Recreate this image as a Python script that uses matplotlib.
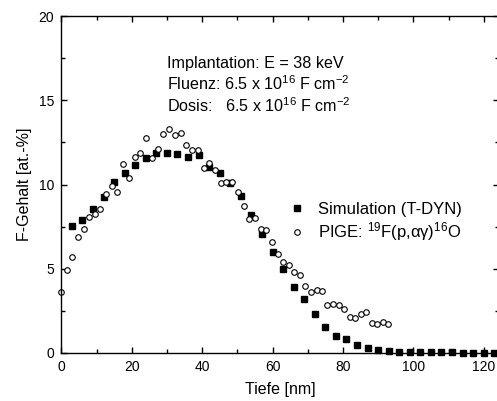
import numpy as np
import matplotlib
matplotlib.use("Agg")
import matplotlib.pyplot as plt
from matplotlib.ticker import MultipleLocator

plt.rcParams['font.family'] = ['Liberation Sans', 'DejaVu Sans']
plt.rcParams['mathtext.fontset'] = 'custom'
plt.rcParams['mathtext.rm'] = 'Liberation Sans'
plt.rcParams['mathtext.it'] = 'Liberation Sans:italic'

# Simulation (T-DYN), Tiefe in nm, F-Gehalt in at.-%
sim_x = [3, 6, 9, 12, 15, 18, 21, 24, 27, 30, 33, 36, 39, 42, 45, 48, 51, 54,
         57, 60, 63, 66, 69, 72, 75, 78, 81, 84, 87, 90, 93, 96, 99, 102, 105,
         108, 111, 114, 117, 120, 123]
sim_y = [7.52, 7.89, 8.56, 9.28, 10.17, 10.66, 11.14, 11.55, 11.89, 11.88,
         11.79, 11.61, 11.77, 11.03, 10.70, 10.07, 9.31, 8.17, 7.04, 5.99,
         4.97, 3.90, 3.20, 2.29, 1.52, 1.01, 0.81, 0.47, 0.28, 0.18, 0.12,
         0.08, 0.06, 0.05, 0.04, 0.03, 0.03, 0.02, 0.02, 0.02, 0.02]

# PIGE Messung
pige_x = [0.0, 1.5, 3.0, 4.65, 6.35, 7.9, 9.5, 11.1, 12.7, 14.3, 15.9, 17.5,
          19.1, 20.8, 22.4, 24.1, 25.7, 27.4, 29.0, 30.6, 32.2, 33.9, 35.5,
          37.2, 38.8, 40.5, 42.1, 43.7, 45.3, 46.9, 48.5, 50.1, 51.8, 53.4,
          55.0, 56.6, 58.2, 59.9, 61.5, 63.1, 64.7, 66.2, 67.8, 69.3, 70.9,
          72.6, 74.1, 75.6, 77.3, 78.8, 80.3, 82.0, 83.5, 85.1, 86.6, 88.2,
          89.8, 91.3, 92.9]
pige_y = [3.6, 4.94, 5.70, 6.87, 7.36, 8.07, 8.25, 8.56, 9.46, 9.91, 9.57,
          11.23, 10.41, 11.63, 11.89, 12.77, 11.59, 12.12, 12.99, 13.28, 12.92,
          13.08, 12.33, 12.02, 12.05, 11.00, 11.27, 10.87, 10.06, 10.14, 10.14,
          9.55, 8.74, 7.95, 7.99, 7.36, 7.30, 6.57, 5.86, 5.38, 5.22, 4.82,
          4.65, 3.98, 3.60, 3.74, 3.66, 2.85, 2.91, 2.85, 2.59, 2.12, 2.06,
          2.31, 2.45, 1.76, 1.70, 1.86, 1.72]

W, H = 497, 401
fig = plt.figure(figsize=(W / 100, H / 100), dpi=100)
left, right, top, bottom = 61.3, 499.0, 16.0, 353.0
ax = fig.add_axes([left / W, 1 - bottom / H, (right - left) / W, (bottom - top) / H])

ax.plot(sim_x, sim_y, linestyle='none', marker='s', markersize=3.8,
        color='black', label='Simulation (T-DYN)', clip_on=False)
ax.plot(pige_x, pige_y, linestyle='none', marker='o', markersize=4.0,
        markerfacecolor='white', markeredgecolor='black', markeredgewidth=0.8,
        label=r'PIGE: $^{19}$F(p,αγ)$^{16}$O', clip_on=False)

ax.set_xlim(0, (right - left) / 3.52)
ax.set_ylim(0, 20)
ax.xaxis.set_major_locator(MultipleLocator(20))
ax.xaxis.set_minor_locator(MultipleLocator(10))
ax.yaxis.set_major_locator(MultipleLocator(5))
ax.yaxis.set_minor_locator(MultipleLocator(2.5))
ax.tick_params(which='both', direction='in', top=True, right=True,
               labelsize=10, width=1.0)
ax.tick_params(which='major', length=4.5, pad=5)
ax.tick_params(which='minor', length=2.6)
for s in ax.spines.values():
    s.set_linewidth(1.0)

ax.set_xlabel('Tiefe [nm]', fontsize=11.5, labelpad=5.5)
ax.set_ylabel('F-Gehalt [at.-%]', fontsize=11.5, labelpad=5)

fs = 11.6
fig.text(167 / W, 1 - 68 / H, 'Implantation: E = 38 keV', fontsize=fs, va='baseline')
fig.text(167 / W, 1 - 90 / H, r'Fluenz: 6.5 x 10$^{16}$ F cm$^{-2}$', fontsize=fs, va='baseline')
fig.text(167 / W, 1 - 112 / H, r'Dosis:   6.5 x 10$^{16}$ F cm$^{-2}$', fontsize=fs, va='baseline')

ax.legend(frameon=False, loc='upper left', bbox_to_anchor=(291.7 / W, 1 - 202 / H),
          bbox_transform=fig.transFigure, borderpad=0, borderaxespad=0,
          handlelength=0.6, handletextpad=0.98, labelspacing=0.2,
          numpoints=1, fontsize=12)

fig.savefig('out.png', dpi=100)
